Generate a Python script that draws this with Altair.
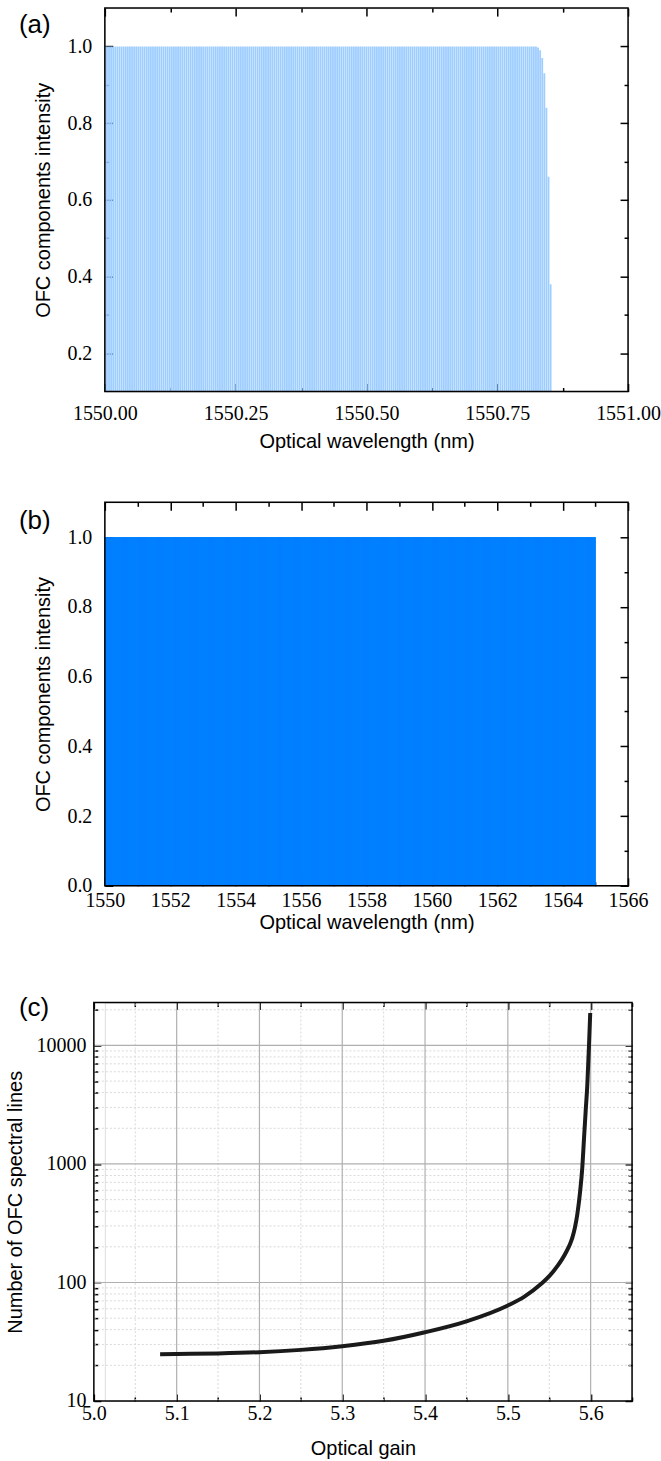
import altair as alt
import numpy as np
import pandas as pd

# ---------------- Panel (a) : comb near the roll-off ----------------
a_comb_start = 1550.000
a_comb_step = 0.004
a_flat_count = 207            # 1550.000 ... 1550.824 at full intensity
a_flat_intensity = 1.0
a_edge_wl = [1550.828, 1550.832, 1550.836, 1550.840, 1550.844, 1550.848, 1550.852]
a_edge_int = [0.997, 0.99, 0.97, 0.93, 0.84, 0.66, 0.38]
a_x_major = [1550.00, 1550.25, 1550.50, 1550.75, 1551.00]
a_x_minor = [1550.125, 1550.375, 1550.625, 1550.875]
a_y_major = [0.2, 0.4, 0.6, 0.8, 1.0]
a_y_minor = [0.3, 0.5, 0.7, 0.9]

# ---------------- Panel (b) : full comb ----------------
b_comb_start = 1550.0
b_comb_step = 0.01
b_comb_count = 1501           # 1550.00 ... 1565.00
b_intensity = 1.0
b_x_major = [1550, 1552, 1554, 1556, 1558, 1560, 1562, 1564, 1566]
b_x_minor = [1551, 1553, 1555, 1557, 1559, 1561, 1563, 1565]
b_y_major = [0.0, 0.2, 0.4, 0.6, 0.8, 1.0]
b_y_minor = [0.1, 0.3, 0.5, 0.7, 0.9]

# ---------------- Panel (c) : number of lines vs gain ----------------
c_gain = [5.08, 5.10, 5.15, 5.20, 5.25, 5.30, 5.35, 5.40, 5.45, 5.50, 5.52, 5.54,
          5.55, 5.56, 5.565, 5.570, 5.575, 5.578, 5.581, 5.584, 5.587, 5.590,
          5.592, 5.594, 5.596, 5.598, 5.5995]
c_lines = [24.8, 24.9, 25.2, 25.8, 27.0, 29.0, 32.2, 38.0, 47.0, 64.0, 76.0, 97.0,
           113, 138, 155, 178, 210, 240, 290, 380, 560, 950,
           1650, 2800, 4700, 10000, 18800]
c_x_major = [5.0, 5.1, 5.2, 5.3, 5.4, 5.5, 5.6]
c_x_minor = [5.05, 5.15, 5.25, 5.35, 5.45, 5.55, 5.65]
c_y_major = [10, 100, 1000, 10000]
c_y_minor = [20, 30, 40, 50, 60, 70, 80, 90,
             200, 300, 400, 500, 600, 700, 800, 900,
             2000, 3000, 4000, 5000, 6000, 7000, 8000, 9000, 20000]

LABEL_FONT = "Liberation Serif, Times New Roman, serif"
TITLE_FONT = "Liberation Sans, Arial, sans-serif"
FS_LABEL = 20
FS_TITLE = 20


def ticks(channel, sx, sy, dom_x, dom_y, vals, orient, size, shift=0, fmt=None,
          title=None, label_padding=8, title_padding=10):
    off = shift - size if orient == "left" else -size
    axis_kw = dict(orient=orient, values=vals, tickSize=size, offset=off,
                   domain=False, grid=False, ticks=True, tickColor="black",
                   tickWidth=1.5, labels=fmt is not None, title=title,
                   labelFlush=False, labelOverlap=False)
    if fmt is not None:
        axis_kw.update(format=fmt, labelFont=LABEL_FONT, labelFontSize=FS_LABEL,
                       labelColor="black", labelPadding=label_padding)
    if title is not None:
        axis_kw.update(titleFont=TITLE_FONT, titleFontSize=FS_TITLE,
                       titleFontWeight="normal", titleColor="black",
                       titlePadding=title_padding)
    ax = alt.Axis(**axis_kw)
    if channel == "x":
        df = pd.DataFrame({"v": vals, "w": [dom_y[0]] * len(vals)})
        return alt.Chart(df).mark_point(opacity=0).encode(
            x=alt.X("v:Q", scale=sx, axis=ax),
            y=alt.Y("w:Q", scale=sy, axis=None))
    df = pd.DataFrame({"v": vals, "w": [dom_x[0]] * len(vals)})
    return alt.Chart(df).mark_point(opacity=0).encode(
        y=alt.Y("v:Q", scale=sy, axis=ax),
        x=alt.X("w:Q", scale=sx, axis=None))


def grid_rules(channel, sx, sy, dom_x, dom_y, vals, color, width, dash=None):
    kw = dict(color=color, strokeWidth=width)
    if dash is not None:
        kw["strokeDash"] = dash
    n = len(vals)
    if channel == "x":
        df = pd.DataFrame({"v": vals, "lo": [dom_y[0]] * n, "hi": [dom_y[1]] * n})
        return alt.Chart(df).mark_rule(**kw).encode(
            x=alt.X("v:Q", scale=sx, axis=None),
            y=alt.Y("lo:Q", scale=sy, axis=None), y2="hi:Q")
    df = pd.DataFrame({"v": vals, "lo": [dom_x[0]] * n, "hi": [dom_x[1]] * n})
    return alt.Chart(df).mark_rule(**kw).encode(
        y=alt.Y("v:Q", scale=sy, axis=None),
        x=alt.X("lo:Q", scale=sx, axis=None), x2="hi:Q")


def frame(sx, sy, dom_x, dom_y):
    df = pd.DataFrame({"x0": [dom_x[0]], "x1": [dom_x[1]],
                       "y0": [dom_y[0]], "y1": [dom_y[1]]})
    return alt.Chart(df).mark_rect(fillOpacity=0, stroke="black", strokeWidth=1.5).encode(
        x=alt.X("x0:Q", scale=sx, axis=None), x2="x1:Q",
        y=alt.Y("y0:Q", scale=sy, axis=None), y2="y1:Q")


def label(txt, sx, sy, dom_x, dom_y, dx, dy):
    df = pd.DataFrame({"t": [txt], "px": [dom_x[0]], "py": [dom_y[1]]})
    return alt.Chart(df).mark_text(
        align="left", baseline="middle", font=TITLE_FONT, fontSize=26,
        color="black", dx=dx, dy=dy
    ).encode(x=alt.X("px:Q", scale=sx, axis=None),
             y=alt.Y("py:Q", scale=sy, axis=None), text="t:N")


def spacer(sx, sy, dom_x, dom_y, left, top, bottom):
    df = pd.DataFrame({"px": [dom_x[0]], "py": [dom_y[1]]})
    return alt.Chart(df).mark_rect(
        opacity=0, xOffset=-left, x2Offset=0, yOffset=top, y2Offset=bottom
    ).encode(x=alt.X("px:Q", scale=sx, axis=None), x2="px:Q",
             y=alt.Y("py:Q", scale=sy, axis=None), y2="py:Q")


def panel(data_layers, sx, sy, dom_x, dom_y, xt, yt, xfmt, yfmt, xmaj, xmin,
          ymaj, ymin, major_len, lab, lab_dx, lab_dy, left, top, bottom, w, h,
          xlp, xtp, ylp, ytp, shift=0, grids=()):
    a = (sx, sy, dom_x, dom_y)
    layers = list(grids) + list(data_layers) + [
        frame(*a),
        ticks("x", *a, xmaj, "bottom", major_len, fmt=xfmt, title=xt,
              label_padding=xlp, title_padding=xtp),
        ticks("x", *a, xmin, "bottom", 4),
        ticks("x", *a, xmaj, "top", major_len),
        ticks("x", *a, xmin, "top", 4),
        ticks("y", *a, ymaj, "left", major_len, shift=shift, fmt=yfmt, title=yt,
              label_padding=ylp, title_padding=ytp),
        ticks("y", *a, ymin, "left", 4, shift=shift),
        ticks("y", *a, ymaj, "right", major_len),
        ticks("y", *a, ymin, "right", 4),
        label(lab, *a, lab_dx, lab_dy),
        spacer(*a, left, top, bottom),
    ]
    return alt.layer(*layers).resolve_axis(x="independent", y="independent").properties(
        width=w, height=h)


# ---------------- panel (a) ----------------
a_wl = list(a_comb_start + a_comb_step * np.arange(a_flat_count)) + a_edge_wl
a_int = [a_flat_intensity] * a_flat_count + a_edge_int
df_a = pd.DataFrame({"wl": a_wl, "inten": a_int})
dxa, dya = [1550.0, 1551.0], [0.1, 1.1]
sx_a = alt.Scale(domain=dxa, nice=False, zero=False)
sy_a = alt.Scale(domain=dya, nice=False, zero=False)
comb_a = alt.Chart(df_a).mark_rule(color="#9ecdff", strokeWidth=1.8, clip=True).encode(
    x=alt.X("wl:Q", scale=sx_a, axis=None),
    y=alt.Y("inten:Q", scale=sy_a, axis=None),
    y2=alt.datum(0),
)
panel_a = panel([comb_a], sx_a, sy_a, dxa, dya, "Optical wavelength (nm)",
                "OFC components intensity", ".2f", ".1f", a_x_major, a_x_minor,
                a_y_major, a_y_minor, 8, "(a)", -86, 17, 104, -6, 487, 524, 384,
                12, 8, 13, 13)

# ---------------- panel (b) ----------------
b_wl = list(b_comb_start + b_comb_step * np.arange(b_comb_count))
df_b = pd.DataFrame({"wl": b_wl, "inten": [b_intensity] * b_comb_count})
dxb, dyb = [1550, 1566], [0.0, 1.1]
sx_b = alt.Scale(domain=dxb, nice=False, zero=False)
sy_b = alt.Scale(domain=dyb, nice=False, zero=False)
comb_b = alt.Chart(df_b).mark_rule(color="#0080ff", strokeWidth=1, clip=True).encode(
    x=alt.X("wl:Q", scale=sx_b, axis=None),
    y=alt.Y("inten:Q", scale=sy_b, axis=None),
    y2=alt.datum(0),
)
panel_b = panel([comb_b], sx_b, sy_b, dxb, dyb, "Optical wavelength (nm)",
                "OFC components intensity", "d", ".1f", b_x_major, b_x_minor,
                b_y_major, b_y_minor, 8, "(b)", -86, 19, 104, -6, 485, 524, 384,
                5, 2, 13, 13)

# ---------------- panel (c) ----------------
C_SHIFT = 11          # panel (c) plot starts 11 px left of panels (a)/(b)
C_W = 528
df_c = pd.DataFrame({"gain": c_gain, "n": c_lines})
dxc, dyc = [5.0, 5.65], [10, 23000]
sx_c = alt.Scale(domain=dxc, range=[-C_SHIFT, C_W], nice=False, zero=False)
sy_c = alt.Scale(type="log", domain=dyc, nice=False)
curve = alt.Chart(df_c).mark_line(color="#1a1a1a", strokeWidth=4,
                                  interpolate="monotone").encode(
    x=alt.X("gain:Q", scale=sx_c, axis=None),
    y=alt.Y("n:Q", scale=sy_c, axis=None),
)
ac = (sx_c, sy_c, dxc, dyc)
grids_c = [
    grid_rules("x", *ac, c_x_minor[:-1], "#d9d9d9", 1, [2, 2]),
    grid_rules("y", *ac, c_y_minor, "#d9d9d9", 1, [2, 2]),
    grid_rules("x", *ac, c_x_major[1:], "#b0b0b0", 1.2),
    grid_rules("y", *ac, c_y_major[1:], "#b0b0b0", 1.2),
]
panel_c = panel([curve], sx_c, sy_c, dxc, dyc, "Optical gain",
                "Number of OFC spectral lines", ".1f", "d", c_x_major, c_x_minor,
                c_y_major, c_y_minor, 7, "(c)", -75, 5, 104 - C_SHIFT, -14, 463,
                C_W, 399, 3, 15, 8, 10, shift=C_SHIFT, grids=grids_c)

chart = alt.vconcat(panel_a, panel_b, panel_c).properties(
    spacing=0, padding=0
).configure_view(stroke="transparent").configure(background="white")

chart.save("out.html", embed_options={"renderer": "svg", "actions": False})
